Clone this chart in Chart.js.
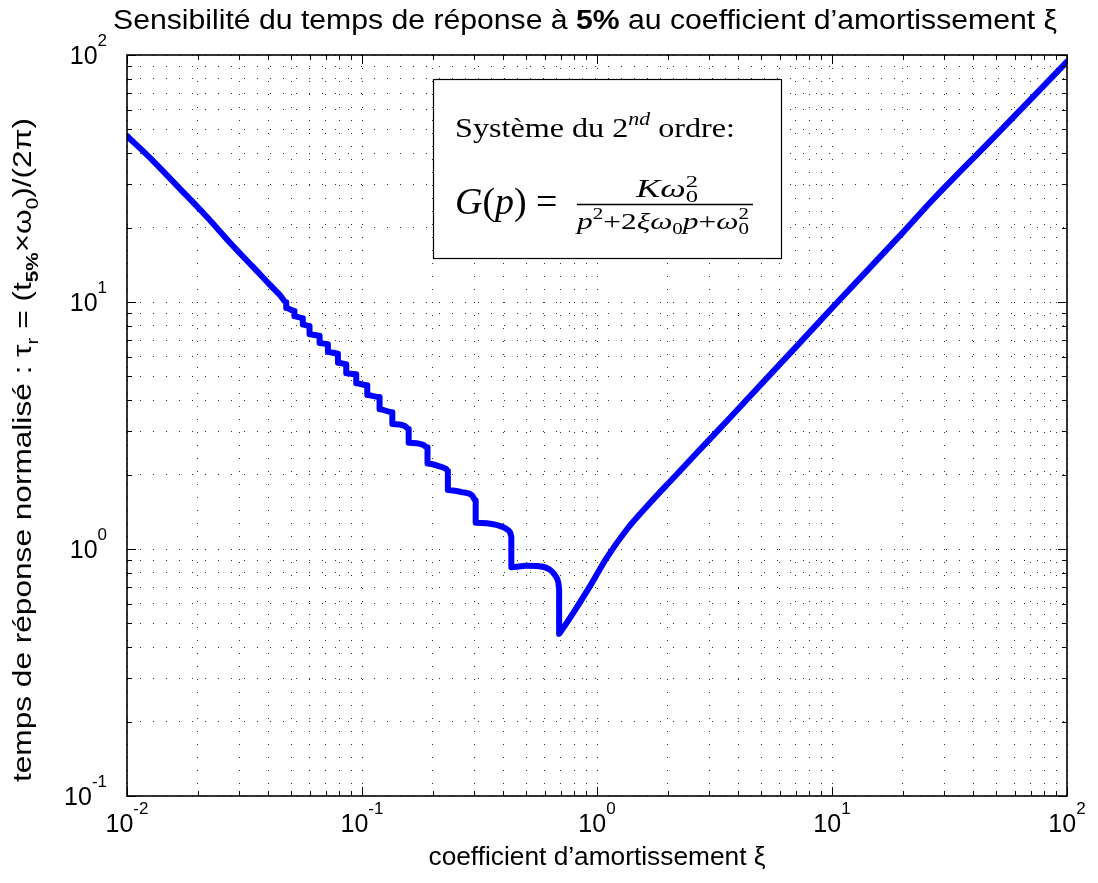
<!DOCTYPE html>
<html>
<head>
<meta charset="utf-8">
<script src="https://cdn.jsdelivr.net/npm/chart.js@4.4.1/dist/chart.umd.min.js"></script>
<style>
  html, body { margin: 0; padding: 0; background: #fff; }
</style>
</head>
<body>
<canvas id="myChart" width="1098" height="883"></canvas>
<script>
// damping ratio (x) and normalised 5% response time (y)
const xi = [
  0.0100, 0.0129, 0.0167, 0.0217, 0.0282, 0.0343, 0.0405, 0.0448,
  0.0476, 0.0476, 0.0516, 0.0516, 0.0560, 0.0560, 0.0598, 0.0598,
  0.0660, 0.0660, 0.0716, 0.0716, 0.0790, 0.0790, 0.0857, 0.0857,
  0.0945, 0.0945, 0.1053, 0.1053, 0.1188, 0.1188, 0.1346, 0.1346,
  0.152, 0.158, 0.158,
  0.182, 0.190, 0.190,
  0.214, 0.228, 0.232, 0.232,
  0.265, 0.293, 0.3046, 0.3046,
  0.373, 0.418, 0.428, 0.432, 0.432,
  0.500, 0.570, 0.630, 0.665, 0.685, 0.690, 0.690,
  0.700, 0.790, 0.931, 1.096, 1.334, 1.676, 2.107, 2.649, 3.329, 3.922,
  5.0, 7.0, 10.0, 20.0, 26.9, 50.0, 100.0
];
const tau = [
  47.0, 37.3, 28.9, 22.3, 16.9, 13.9, 11.75, 10.65,
  9.98, 9.45, 9.20, 8.75, 8.60, 8.10, 8.00, 7.40,
  7.30, 6.82, 6.75, 6.28, 6.18, 5.68, 5.60, 5.15,
  5.10, 4.69, 4.60, 4.20, 4.12, 3.68, 3.58, 3.21,
  3.15, 3.06, 2.69,
  2.64, 2.58, 2.22,
  2.16, 2.11, 2.07, 1.733,
  1.70, 1.654, 1.57, 1.278,
  1.251, 1.194, 1.16, 1.12, 0.843,
  0.855, 0.852, 0.825, 0.78, 0.73, 0.69, 0.453,
  0.462, 0.549, 0.704, 0.917, 1.194, 1.531, 1.933, 2.44, 3.07, 3.63,
  4.65, 6.55, 9.45, 19.1, 26.0, 47.5, 94.0
];

// decade exponents shown as tick labels
const xExp = [-2, -1, 0, 1, 2];
const yExp = [-1, 0, 1, 2];

function logTicks(exps) {
  const out = [];
  for (let i = 0; i < exps.length - 1; i++) {
    for (let m = 1; m < 10; m++) out.push(m * Math.pow(10, exps[i]));
  }
  out.push(Math.pow(10, exps[exps.length - 1]));
  return out;
}
const xTicks = logTicks(xExp);
const yTicks = logTicks(yExp);

const SANS = '"Liberation Sans", Arial, sans-serif';
const SERIF = '"Liberation Serif", "Times New Roman", serif';

function drawRuns(c, items, x, y, align, fitW) {
  let w = 0;
  for (const it of items) {
    c.font = it.f;
    it.w = c.measureText(it.t).width;
    if (!it.stay) w += it.w;
  }
  const k = fitW ? fitW / w : 1;
  const start = align === 'center' ? -w * k / 2 : (align === 'right' ? -w * k : 0);
  c.save();
  c.translate(x + start, y);
  c.scale(k, 1);
  let cx = 0;
  for (const it of items) {
    c.font = it.f;
    c.fillText(it.t, cx, it.dy || 0);
    if (!it.stay) cx += it.w;
  }
  c.restore();
}

function pow10(c, e, x, y, mode) {
  const base = '25px ' + SANS, sup = '17px ' + SANS;
  const es = e < 0 ? '-' + Math.abs(e) : String(e);
  const items = [{t: '10', f: base}, {t: es, f: sup, dy: -18}];
  if (mode === 'x') drawRuns(c, items, x, y, 'center');
  else drawRuns(c, items, x, y + 9, 'right');
}

const deco = {
  id: 'deco',
  afterDraw(chart) {
    const c = chart.ctx, a = chart.chartArea;
    const sx = chart.scales.x, sy = chart.scales.y;
    c.save();
    c.fillStyle = '#000';
    c.strokeStyle = '#000';
    c.textBaseline = 'alphabetic';

    // inward ticks on all four sides
    c.lineWidth = 1;
    c.beginPath();
    xTicks.forEach(v => {
      const p = Math.round(sx.getPixelForValue(v)) + 0.5;
      const L = Number.isInteger(Math.round(Math.log10(v) * 1e6) / 1e6) ? 9 : 5;
      c.moveTo(p, a.bottom); c.lineTo(p, a.bottom - L);
      c.moveTo(p, a.top); c.lineTo(p, a.top + L);
    });
    yTicks.forEach(v => {
      const p = Math.round(sy.getPixelForValue(v)) + 0.5;
      const L = Number.isInteger(Math.round(Math.log10(v) * 1e6) / 1e6) ? 9 : 5;
      c.moveTo(a.left, p); c.lineTo(a.left + L, p);
      c.moveTo(a.right, p); c.lineTo(a.right - L, p);
    });
    c.stroke();

    // axes box
    c.lineWidth = 1.6;
    c.strokeRect(a.left, a.top, a.right - a.left, a.bottom - a.top);

    // tick labels
    xExp.forEach(e => pow10(c, e, sx.getPixelForValue(Math.pow(10, e)), 832, 'x'));
    yExp.forEach(e => pow10(c, e, 107, sy.getPixelForValue(Math.pow(10, e)), 'y'));

    // title
    drawRuns(c, [
      {t: 'Sensibilité du temps de réponse à ', f: '27px ' + SANS},
      {t: '5%', f: 'bold 27px ' + SANS},
      {t: ' au coefficient d’amortissement ξ', f: '27px ' + SANS}
    ], 585, 29, 'center', 944);

    // x axis label
    drawRuns(c, [{t: 'coefficient d’amortissement ξ', f: '26px ' + SANS}], 597, 865, 'center', 337);

    // y axis label
    c.save();
    c.translate(31, 450);
    c.rotate(-Math.PI / 2);
    const m = '26px ' + SANS, s = '17px ' + SANS;
    drawRuns(c, [
      {t: 'temps de réponse normalisé : τ', f: m},
      {t: 'r', f: s, dy: 7},
      {t: ' = (t', f: m},
      {t: '5%', f: 'bold ' + s, dy: 7},
      {t: '×ω', f: m},
      {t: '0', f: s, dy: 7},
      {t: ')/(2π)', f: m}
    ], 0, 0, 'center', 664);
    c.restore();

    // annotation box
    c.fillStyle = '#fff';
    c.fillRect(433.5, 79.5, 348, 179);
    c.lineWidth = 1.2;
    c.strokeRect(433.5, 79.5, 348, 179);
    c.fillStyle = '#000';
    drawRuns(c, [
      {t: 'Système du 2', f: '28px ' + SERIF},
      {t: 'nd', f: 'italic 19px ' + SERIF, dy: -12},
      {t: ' ordre:', f: '28px ' + SERIF}
    ], 455, 137, 'left', 280);

    drawRuns(c, [
      {t: 'G', f: 'italic 37px ' + SERIF},
      {t: '(', f: '37px ' + SERIF},
      {t: 'p', f: 'italic 37px ' + SERIF},
      {t: ') = ', f: '37px ' + SERIF}
    ], 455, 214, 'left', 112);

    c.lineWidth = 1.6;
    c.beginPath();
    c.moveTo(577, 204.5); c.lineTo(753, 204.5);
    c.stroke();

    drawRuns(c, [
      {t: 'Kω', f: 'italic 25px ' + SERIF},
      {t: '0', f: '17px ' + SERIF, dy: 5, stay: true},
      {t: '2', f: '17px ' + SERIF, dy: -10}
    ], 667, 197, 'center', 62);

    drawRuns(c, [
      {t: 'p', f: 'italic 24px ' + SERIF},
      {t: '2', f: '16px ' + SERIF, dy: -10},
      {t: '+2', f: '24px ' + SERIF},
      {t: 'ξω', f: 'italic 24px ' + SERIF},
      {t: '0', f: '16px ' + SERIF, dy: 5},
      {t: 'p', f: 'italic 24px ' + SERIF},
      {t: '+', f: '24px ' + SERIF},
      {t: 'ω', f: 'italic 24px ' + SERIF},
      {t: '0', f: '16px ' + SERIF, dy: 5, stay: true},
      {t: '2', f: '16px ' + SERIF, dy: -10}
    ], 663, 229, 'center', 172);

    c.restore();
  }
};

const gridOpts = { color: 'rgba(0,0,0,0.8)', lineWidth: 1, drawTicks: false };

const ctx = document.getElementById('myChart');
const chart = new Chart(ctx, {
  type: 'line',
  data: {
    datasets: [{
      data: xi.map((x, i) => ({x: x, y: tau[i]})),
      borderColor: '#0000ff',
      borderWidth: 6,
      borderJoinStyle: 'round',
      borderCapStyle: 'round',
      pointRadius: 0,
      cubicInterpolationMode: 'monotone',
      fill: false
    }]
  },
  options: {
    responsive: false,
    animation: false,
    devicePixelRatio: 1,
    layout: { padding: { top: 55, right: 31, left: 0, bottom: 0 } },
    plugins: {
      legend: { display: false },
      tooltip: { enabled: false },
      title: { display: false }
    },
    scales: {
      x: {
        type: 'logarithmic', min: 0.01, max: 100,
        afterBuildTicks: s => { s.ticks = xTicks.map(v => ({value: v})); },
        afterFit: s => { s.height = 87; },
        ticks: { display: false },
        grid: gridOpts,
        border: { display: false, dash: [1, 12] }
      },
      y: {
        type: 'logarithmic', min: 0.1, max: 100,
        afterBuildTicks: s => { s.ticks = yTicks.map(v => ({value: v})); },
        afterFit: s => { s.width = 127; },
        ticks: { display: false },
        grid: gridOpts,
        border: { display: false, dash: [1, 12] }
      }
    }
  },
  plugins: [deco]
});
</script>
</body>
</html>
